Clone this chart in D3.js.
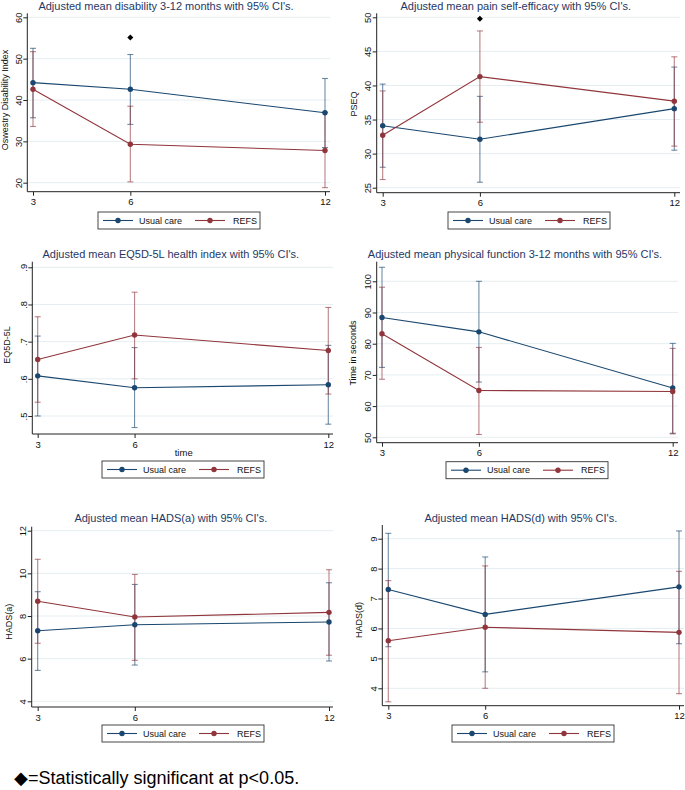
<!DOCTYPE html>
<html><head><meta charset="utf-8">
<script src="https://cdn.jsdelivr.net/npm/d3@7"></script>
<style>body{margin:0;background:#fff}svg{display:block}text{font-family:"Liberation Sans",Arial,sans-serif}</style>
</head><body><svg id="c" width="685" height="790"></svg>
<script>
const months = [3, 6, 12];
const seriesNames = ["Usual care", "REFS"];

// Panel 1: Oswestry Disability Index
const odiUC = [44.2, 42.6, 36.9], odiUCLo = [35.7, 34.1, 28.5], odiUCHi = [52.5, 51.0, 45.2];
const odiREFS = [42.6, 29.3, 27.8], odiREFSLo = [33.6, 20.2, 18.8], odiREFSHi = [51.7, 38.5, 37.0];
const odiTicks = [20, 30, 40, 50, 60];
const odiSig = [{month: 6, value: 55.1}];

// Panel 2: PSEQ
const pseqUC = [34.1, 32.1, 36.6], pseqUCLo = [28.0, 25.8, 30.5], pseqUCHi = [40.2, 38.4, 42.7];
const pseqREFS = [32.7, 41.3, 37.7], pseqREFSLo = [26.2, 34.6, 31.1], pseqREFSHi = [39.2, 48.0, 44.2];
const pseqTicks = [25, 30, 35, 40, 45, 50];
const pseqSig = [{month: 6, value: 49.8}];

// Panel 3: EQ5D-5L
const eqUC = [0.608, 0.576, 0.584], eqUCLo = [0.500, 0.469, 0.478], eqUCHi = [0.715, 0.684, 0.690];
const eqREFS = [0.652, 0.718, 0.676], eqREFSLo = [0.537, 0.600, 0.559], eqREFSHi = [0.767, 0.833, 0.792];
const eqTicks = [0.5, 0.6, 0.7, 0.8, 0.9];
const eqTickLabels = [".5", ".6", ".7", ".8", ".9"];

// Panel 4: physical function (seconds)
const pfUC = [88.4, 83.8, 65.8], pfUCLo = [72.4, 67.7, 51.3], pfUCHi = [104.5, 100.0, 80.1];
const pfREFS = [83.2, 65.0, 64.7], pfREFSLo = [68.6, 50.9, 51.1], pfREFSHi = [98.1, 78.8, 78.5];
const pfTicks = [50, 60, 70, 80, 90, 100];

// Panel 5: HADS(a)
const hadsaUC = [7.31, 7.59, 7.72], hadsaUCLo = [5.45, 5.70, 5.89], hadsaUCHi = [9.14, 9.48, 9.56];
const hadsaREFS = [8.69, 7.95, 8.17], hadsaREFSLo = [6.72, 5.92, 6.16], hadsaREFSHi = [10.66, 9.95, 10.17];
const hadsaTicks = [4, 6, 8, 10, 12];

// Panel 6: HADS(d)
const hadsdUC = [7.30, 6.47, 7.39], hadsdUCLo = [5.39, 4.55, 5.49], hadsdUCHi = [9.18, 8.39, 9.26];
const hadsdREFS = [5.59, 6.04, 5.87], hadsdREFSLo = [3.55, 4.00, 3.82], hadsdREFSHi = [7.60, 8.09, 7.91];
const hadsdTicks = [4, 5, 6, 7, 8, 9];

const titles = [
  "Adjusted mean disability 3-12 months with 95% CI's.",
  "Adjusted mean pain self-efficacy with 95% CI's.",
  "Adjusted mean EQ5D-5L health index with 95% CI's.",
  "Adjusted mean physical function 3-12 months with 95% CI's.",
  "Adjusted mean HADS(a) with 95% CI's.",
  "Adjusted mean HADS(d) with 95% CI's."
];
const yTitles = ["Oswestry Disability Index", "PSEQ", "EQ5D-5L", "Time in seconds", "HADS(a)", "HADS(d)"];
const footnote = "\u25C6=Statistically significant at p<0.05.";

const COLORS = ["#1a476f", "#90353b"];
const TITLE_COLOR = "#1f3864";

const panels = [
  {title: titles[0], yTitle: yTitles[0], ticks: odiTicks, labels: null, sig: odiSig,
   s: [[odiUC, odiUCLo, odiUCHi], [odiREFS, odiREFSLo, odiREFSHi]],
   L: {ax: 27.3, top: 13.3, bot: 191.7, right: 330, x0: 33, x1: 325, yb: 182.7, yt: 17.3, tx: 166, ty: 9.5, ytx: 4.5, yty: 100, lx: 98, ly: 212}},
  {title: titles[1], yTitle: yTitles[1], ticks: pseqTicks, labels: null, sig: pseqSig,
   s: [[pseqUC, pseqUCLo, pseqUCHi], [pseqREFS, pseqREFSLo, pseqREFSHi]],
   L: {ax: 376.7, top: 13.3, bot: 192.7, right: 680, x0: 382.7, x1: 674.3, yb: 187.7, yt: 17.3, tx: 515.8, ty: 9.5, ytx: 353.5, yty: 104, lx: 448, ly: 212}},
  {title: titles[2], yTitle: yTitles[2], ticks: eqTicks, labels: eqTickLabels, sig: [], xTitle: "time",
   s: [[eqUC, eqUCLo, eqUCHi], [eqREFS, eqREFSLo, eqREFSHi]],
   L: {ax: 32.3, top: 261.7, bot: 434, right: 333, x0: 37.7, x1: 328.3, yb: 416, yt: 267.3, tx: 170.8, ty: 258.3, ytx: 7, yty: 345, lx: 102, ly: 461, xtx: 183.7, xty: 455.5}},
  {title: titles[3], yTitle: yTitles[3], ticks: pfTicks, labels: null, sig: [],
   s: [[pfUC, pfUCLo, pfUCHi], [pfREFS, pfREFSLo, pfREFSHi]],
   L: {ax: 376.7, top: 261.7, bot: 442.7, right: 678, x0: 382, x1: 672.7, yb: 437.3, yt: 281.3, tx: 515, ty: 258.3, ytx: 352.5, yty: 353, lx: 446, ly: 461.7}},
  {title: titles[4], yTitle: yTitles[4], ticks: hadsaTicks, labels: null, sig: [],
   s: [[hadsaUC, hadsaUCLo, hadsaUCHi], [hadsaREFS, hadsaREFSLo, hadsaREFSHi]],
   L: {ax: 31.7, top: 526.7, bot: 707, right: 333, x0: 37.7, x1: 329, yb: 701.3, yt: 530.7, tx: 170.8, ty: 522.3, ytx: 8.5, yty: 621.7, lx: 102, ly: 725}},
  {title: titles[5], yTitle: yTitles[5], ticks: hadsdTicks, labels: null, sig: [],
   s: [[hadsdUC, hadsdUCLo, hadsdUCHi], [hadsdREFS, hadsdREFSLo, hadsdREFSHi]],
   L: {ax: 382.3, top: 525, bot: 705.7, right: 684, x0: 388.3, x1: 679, yb: 688.3, yt: 538.7, tx: 520.8, ty: 522.3, ytx: 358.5, yty: 620, lx: 452, ly: 725}}
];

const svg = d3.select("#c");
svg.append("rect").attr("width", 685).attr("height", 790).attr("fill", "#fff");

function drawPanel(p) {
  const L = p.L;
  const g = svg.append("g");
  const x = d3.scaleLinear().domain([months[0], months[months.length - 1]]).range([L.x0, L.x1]);
  const y = d3.scaleLinear().domain([p.ticks[0], p.ticks[p.ticks.length - 1]]).range([L.yb, L.yt]);

  // grid
  g.append("g").selectAll("line").data(p.ticks).join("line")
    .attr("x1", L.ax).attr("x2", L.right)
    .attr("y1", d => y(d)).attr("y2", d => y(d))
    .attr("stroke", "#e6eef1").attr("stroke-width", 1);

  // y axis
  const yAxis = d3.axisLeft(y).tickValues(p.ticks).tickSize(4).tickSizeOuter(0)
    .tickFormat((d, i) => p.labels ? p.labels[i] : d3.format("d")(d));
  const ya = g.append("g").attr("transform", `translate(${L.ax},0)`).call(yAxis);
  ya.select(".domain").remove();
  ya.selectAll(".tick line").attr("stroke", "#222");
  ya.selectAll(".tick text")
    .attr("x", null).attr("dy", null).attr("y", null)
    .attr("text-anchor", "middle")
    .attr("transform", "translate(-5.5,0) rotate(-90)")
    .attr("font-size", 9.3).attr("fill", "#111").attr("font-family", "Liberation Sans, Arial, sans-serif");
  g.append("line").attr("x1", L.ax).attr("x2", L.ax).attr("y1", L.top).attr("y2", L.bot)
    .attr("stroke", "#222").attr("stroke-width", 1);

  // x axis
  const xAxis = d3.axisBottom(x).tickValues(months).tickSize(4).tickSizeOuter(0).tickFormat(d3.format("d"));
  const xa = g.append("g").attr("transform", `translate(0,${L.bot})`).call(xAxis);
  xa.select(".domain").remove();
  xa.selectAll(".tick line").attr("stroke", "#222");
  xa.selectAll(".tick text").attr("font-size", 9.5).attr("fill", "#111")
    .attr("font-family", "Liberation Sans, Arial, sans-serif");
  g.append("line").attr("x1", L.ax).attr("x2", L.right).attr("y1", L.bot).attr("y2", L.bot)
    .attr("stroke", "#222").attr("stroke-width", 1);

  // CIs
  p.s.forEach((ser, si) => {
    const [m, lo, hi] = ser;
    const cg = g.append("g").attr("stroke", COLORS[si]).attr("stroke-opacity", 0.62).attr("stroke-width", 1.1);
    months.forEach((mo, i) => {
      cg.append("line").attr("x1", x(mo)).attr("x2", x(mo)).attr("y1", y(lo[i])).attr("y2", y(hi[i]));
      [lo[i], hi[i]].forEach(v => cg.append("line").attr("x1", x(mo) - 3).attr("x2", x(mo) + 3)
        .attr("y1", y(v)).attr("y2", y(v)));
    });
  });
  // lines + markers
  p.s.forEach((ser, si) => {
    const m = ser[0];
    const pts = months.map((mo, i) => [mo, m[i]]);
    g.append("path").attr("d", d3.line().x(d => x(d[0])).y(d => y(d[1]))(pts))
      .attr("fill", "none").attr("stroke", COLORS[si]).attr("stroke-width", 1.1);
    g.append("g").selectAll("circle").data(pts).join("circle")
      .attr("cx", d => x(d[0])).attr("cy", d => y(d[1])).attr("r", 2.7).attr("fill", COLORS[si]);
  });

  // significance diamonds
  g.append("g").selectAll("path").data(p.sig).join("path")
    .attr("d", d3.symbol(d3.symbolSquare, 18)())
    .attr("transform", d => `translate(${x(d.month)},${y(d.value)}) rotate(45)`)
    .attr("fill", "#000");

  // titles
  g.append("text").attr("x", L.tx).attr("y", L.ty).attr("text-anchor", "middle")
    .attr("font-size", 11).attr("fill", TITLE_COLOR).text(p.title);
  g.append("text").attr("transform", `translate(${L.ytx + 3},${L.yty}) rotate(-90)`)
    .attr("text-anchor", "middle").attr("font-size", 9).attr("fill", "#111").text(p.yTitle);
  if (p.xTitle) {
    g.append("text").attr("x", L.xtx).attr("y", L.xty).attr("text-anchor", "middle")
      .attr("font-size", 9.5).attr("fill", "#111").text(p.xTitle);
  }

  // legend
  const lg = g.append("g").attr("transform", `translate(${L.lx},${L.ly})`);
  lg.append("rect").attr("width", 162).attr("height", 17).attr("fill", "#fff")
    .attr("stroke", "#333").attr("stroke-width", 0.9);
  const offs = [[5, 41], [97, 135]];
  seriesNames.forEach((nm, si) => {
    const [lx0, tx] = offs[si];
    lg.append("line").attr("x1", lx0).attr("x2", lx0 + 30).attr("y1", 8.5).attr("y2", 8.5)
      .attr("stroke", COLORS[si]).attr("stroke-width", 1.1);
    lg.append("circle").attr("cx", lx0 + 15).attr("cy", 8.5).attr("r", 2.7).attr("fill", COLORS[si]);
    lg.append("text").attr("x", tx).attr("y", 11.8).attr("font-size", 9).attr("fill", "#111").text(nm);
  });
}

panels.forEach(drawPanel);

svg.append("text").attr("x", 14).attr("y", 783.5).attr("font-size", 18).attr("fill", "#000").text(footnote);
</script></body></html>
